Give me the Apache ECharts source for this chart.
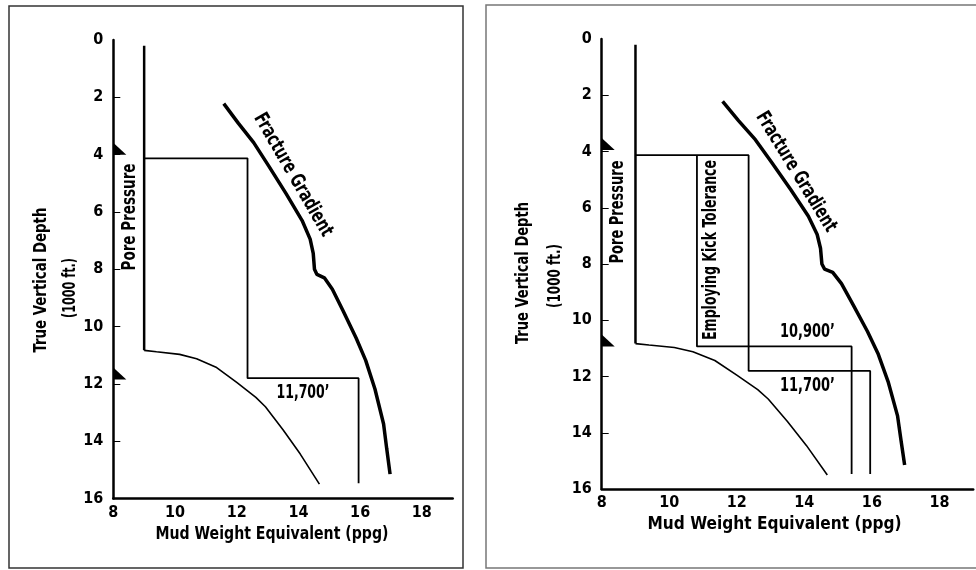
<!DOCTYPE html>
<html>
<head>
<meta charset="utf-8">
<script src="https://cdn.jsdelivr.net/npm/echarts@6/dist/echarts.min.js"></script>
<style>
html,body{margin:0;padding:0;background:#fff;}
#chart{width:976px;height:570px;}
</style>
</head>
<body>
<div id="chart"></div>
<script>
// ---- data (x = mud weight ppg, y = depth in 1000 ft) ----
const depthTicks = [0, 2, 4, 6, 8, 10, 12, 14, 16];
const mudWeightTicks = [8, 10, 12, 14, 16, 18];
const porePressureTrend = [[9.0, 0.2], [9.0, 10.83]];
const porePressureRamp = [[9.0, 10.83], [9.4, 10.88], [10.15, 10.97], [10.7, 11.12], [11.35, 11.43], [12.0, 11.95], [12.62, 12.47], [12.93, 12.8], [13.5, 13.6], [14.06, 14.45], [14.68, 15.5]];
const fractureGradient = [[11.58, 2.22], [12.05, 2.9], [12.55, 3.58], [13.04, 4.4], [13.6, 5.36], [14.12, 6.3], [14.38, 6.95], [14.48, 7.45], [14.52, 8.0], [14.6, 8.18], [14.84, 8.3], [15.1, 8.7], [15.45, 9.46], [15.87, 10.4], [16.18, 11.18], [16.48, 12.18], [16.76, 13.4], [16.86, 14.25], [16.97, 15.15]];
const casingDesign = [[9.0, 4.13], [12.35, 4.13], [12.35, 11.8], [15.95, 11.8], [15.95, 15.47]];
const kickToleranceDesign = [[10.82, 4.13], [10.82, 10.93], [15.4, 10.93], [15.4, 15.47]];
const shoesLeft = [4.0, 11.85];
const shoesRight = [3.95, 10.93];

const FONT = "'Liberation Sans Narrow', 'DejaVu Sans Condensed', 'Roboto Condensed', sans-serif";
const measureCtx = document.createElement('canvas').getContext('2d');
function measure(text, size) {
  measureCtx.font = 'bold ' + size + 'px ' + FONT;
  return measureCtx.measureText(text).width;
}

function xAxisFor(gi) {
  return {
    type: 'value', gridIndex: gi, min: 8, max: 19, interval: 2, position: 'bottom',
    axisLine: { show: true, onZero: false, lineStyle: { color: '#000', width: 2.5 } },
    axisTick: { show: false },
    splitLine: { show: false },
    axisLabel: { customValues: mudWeightTicks, margin: 6, color: '#000', fontWeight: 'bold', fontSize: 16, fontFamily: FONT }
  };
}
function yAxisFor(gi) {
  return {
    type: 'value', gridIndex: gi, min: 0, max: 16, interval: 2, inverse: true,
    axisLine: { show: true, onZero: false, lineStyle: { color: '#000', width: 2.5 } },
    axisTick: { show: true, inside: true, length: 7, customValues: depthTicks.slice(1, -1), lineStyle: { color: '#000', width: 1 } },
    splitLine: { show: false },
    axisLabel: { customValues: depthTicks, margin: 10, color: '#000', fontWeight: 'bold', fontSize: 16, fontFamily: FONT }
  };
}
function lineSeries(data, gi, width) {
  return {
    type: 'line', xAxisIndex: gi, yAxisIndex: gi, data: data, symbol: 'none', showSymbol: false,
    lineStyle: { color: '#000', width: width }, silent: true, z: 3
  };
}
function shoeSeries(depths, gi) {
  return {
    type: 'scatter', xAxisIndex: gi, yAxisIndex: gi, clip: false, silent: true, z: 5,
    data: depths.map(d => [8, d]),
    symbol: 'path://M0 0L0 12L13 12Z', symbolSize: [13, 12], symbolOffset: [6.5, -6],
    itemStyle: { color: '#000', opacity: 1 }
  };
}
function txt(text, x, y, rot, size, targetLen) {
  const sx = targetLen ? targetLen / measure(text, size) : 1;
  return {
    type: 'text', x: x, y: y, rotation: rot || 0, scaleX: sx, z: 10,
    style: { text: text, fill: '#000', fontSize: size, fontWeight: 'bold', fontFamily: FONT, align: 'center', verticalAlign: 'middle' }
  };
}

const chart = echarts.init(document.getElementById('chart'), null, { renderer: 'canvas' });
chart.setOption({
  animation: false,
  backgroundColor: '#fff',
  grid: [
    { left: 113.3, top: 40, width: 339.4, height: 458.5 },
    { left: 601.7, top: 39, width: 371.5, height: 450 }
  ],
  xAxis: [xAxisFor(0), xAxisFor(1)],
  yAxis: [yAxisFor(0), yAxisFor(1)],
  series: [
    lineSeries(porePressureTrend, 0, 2.5),
    lineSeries(porePressureRamp, 0, 1.6),
    lineSeries(fractureGradient, 0, 3.5),
    lineSeries(casingDesign, 0, 1.8),
    shoeSeries(shoesLeft, 0),
    lineSeries(porePressureTrend, 1, 2.5),
    lineSeries(porePressureRamp, 1, 1.6),
    lineSeries(fractureGradient, 1, 3.5),
    lineSeries(casingDesign, 1, 1.8),
    lineSeries(kickToleranceDesign, 1, 1.8),
    shoeSeries(shoesRight, 1)
  ],
  graphic: [
    { type: 'rect', shape: { x: 9, y: 6, width: 454, height: 562 }, style: { fill: 'none', stroke: '#333', lineWidth: 1.5 }, z: 1 },
    { type: 'rect', shape: { x: 486, y: 5, width: 500, height: 563 }, style: { fill: 'none', stroke: '#777', lineWidth: 1.5 }, z: 1 },
    // left panel
    txt('True Vertical Depth', 41.7, 280, Math.PI / 2, 18, 145),
    txt('(1000 ft.)', 70, 288, Math.PI / 2, 18, 60),
    txt('Mud Weight Equivalent (ppg)', 272, 534, 0, 18, 233),
    txt('Pore Pressure', 129.5, 217, Math.PI / 2, 20, 107),
    txt('Fracture Gradient', 293, 175, -Math.PI / 3, 20, 139),
    txt('11,700\u2019', 303, 393, 0, 19, 53),
    // right panel
    txt('True Vertical Depth', 523, 273, Math.PI / 2, 18, 142),
    txt('(1000 ft.)', 555, 276, Math.PI / 2, 18, 64),
    txt('Mud Weight Equivalent (ppg)', 774.5, 524, 0, 18, 254),
    txt('Pore Pressure', 618, 212, Math.PI / 2, 20, 103),
    txt('Employing Kick Tolerance', 711, 250, Math.PI / 2, 20, 180),
    txt('Fracture Gradient', 796, 172, -58.5 * Math.PI / 180, 20, 137),
    txt('10,900\u2019', 807.5, 332, 0, 19, 55),
    txt('11,700\u2019', 807.5, 386, 0, 19, 55)
  ]
});
</script>
</body>
</html>
